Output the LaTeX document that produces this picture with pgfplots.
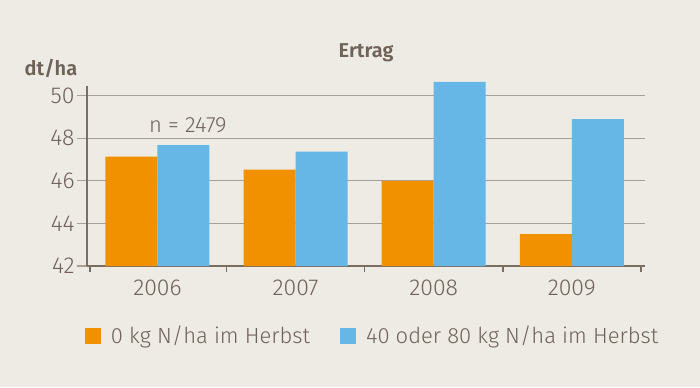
\documentclass[border=0pt]{standalone}
\usepackage{fontspec}
\setmainfont{Fira Sans}[UprightFont=* Light, BoldFont=* SemiBold]
\usepackage{pgfplots}
\pgfplotsset{compat=1.18}
\definecolor{bgc}{HTML}{EEEBE5}
\definecolor{txt}{HTML}{6E6259}
\definecolor{axc}{HTML}{7A6E63}
\definecolor{gridc}{HTML}{A8A098}
\definecolor{orangec}{HTML}{F29100}
\definecolor{bluec}{HTML}{67B7E6}
\begin{document}
\begin{tikzpicture}
\fill[bgc] (-43.5pt,-60.5pt) rectangle (306.5pt,133pt);
\begin{axis}[
  at={(0,0)}, anchor=south west,
  width=279pt, height=90pt, scale only axis,
  xmin=-0.51, xmax=3.53, ymin=42, ymax=50.45,
  clip=false,
  ybar=0pt, bar width=26pt,
  axis x line*=bottom, axis y line*=left,
  axis line style={axc, line width=1.3pt},
  ytick={42,44,...,50},
  ymajorgrids, grid style={gridc, line width=0.6pt},
  xtick={0,1,2,3}, xticklabels={2006,2007,2008,2009},
  major x tick style={draw=none},
  minor xtick={-0.49,0.5,1.5,2.5,3.5},
  minor x tick style={axc, line width=0.8pt},
  minor tick length=3pt,
  major tick length=5pt,
  tick align=outside,
  y tick style={gridc, line width=0.6pt},
  /pgf/number format/assume math mode=true,
  tick label style={font=\fontsize{11.5}{13}\selectfont, text=txt},
  yticklabel style={inner sep=1pt},
  xticklabel style={yshift=1.5pt},
  legend columns=2,
  legend style={at={(0.5137,-0.389)}, anchor=center, draw=none, fill=none,
    font=\fontsize{11}{13}\selectfont, text=txt,
    /tikz/every odd column/.append style={column sep=3pt},
    /tikz/every even column/.append style={column sep=13pt}},
  legend image code/.code={\fill[#1, draw=none] (0pt,-4pt) rectangle (8pt,4pt);},
]
\addplot[fill=orangec, draw=none] coordinates {(0,47.13) (1,46.52) (2,46.0) (3,43.5)};
\addplot[fill=bluec, draw=none] coordinates {(0,47.68) (1,47.37) (2,50.65) (3,48.9)};
\legend{0 kg N/ha im Herbst, 40 oder 80 kg N/ha im Herbst}
\node[text=txt, font=\fontsize{11}{13}\selectfont] at (axis cs:0.22,48.62) {n = 2479};
\end{axis}
\node[text=txt, font=\fontsize{10}{12}\selectfont\bfseries] at (139.5pt,106.5pt) {Ertrag};
\node[text=txt, font=\fontsize{10}{12}\selectfont\bfseries] at (-18pt,99pt) {dt/ha};
\pgfresetboundingbox
\path[use as bounding box] (-43.5pt,-60.5pt) rectangle (306.5pt,133pt);
\end{tikzpicture}
\end{document}
